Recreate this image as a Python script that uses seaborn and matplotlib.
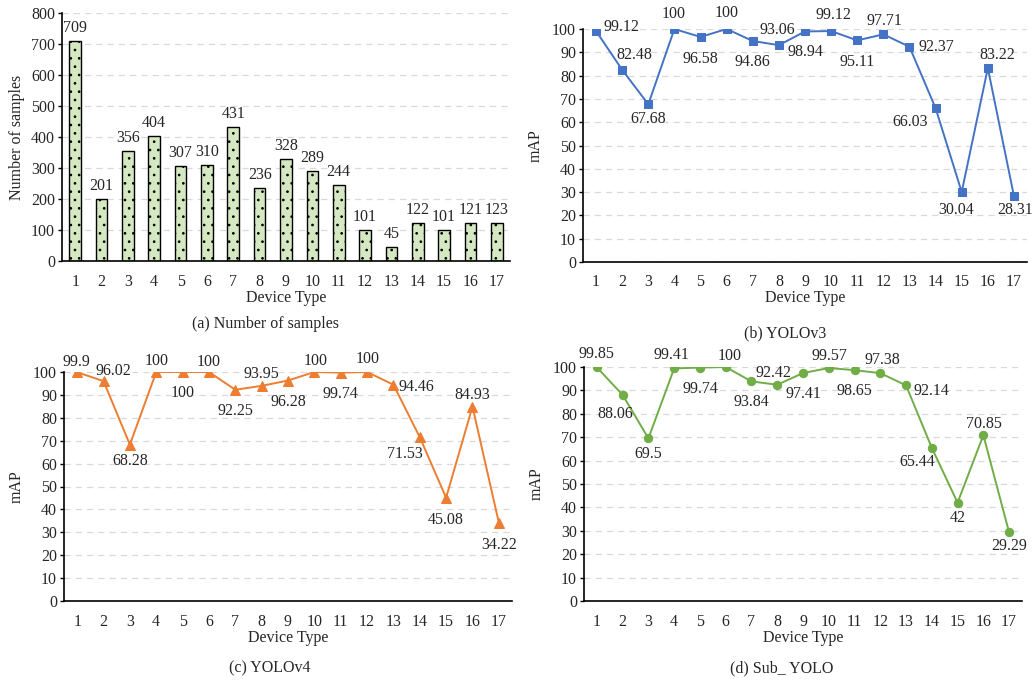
import matplotlib
matplotlib.use("Agg")
import matplotlib.pyplot as plt
import numpy as np
import pandas as pd
import seaborn as sns
from matplotlib.ticker import MultipleLocator

device_types = list(range(1, 18))
samples = [709, 201, 356, 404, 307, 310, 431, 236, 328, 289, 244, 101, 45, 122, 101, 121, 123]
yolov3_map = [99.12, 82.48, 67.68, 100, 96.58, 100, 94.86, 93.06, 98.94, 99.12, 95.11, 97.71, 92.37,
              66.03, 30.04, 83.22, 28.31]
yolov4_map = [99.9, 96.02, 68.28, 100, 100, 100, 92.25, 93.95, 96.28, 100, 99.74, 100, 94.46,
              71.53, 45.08, 84.93, 34.22]
sub_yolo_map = [99.85, 88.06, 69.5, 99.41, 99.74, 100, 93.84, 92.42, 97.41, 99.57, 98.65, 97.38, 92.14,
                65.44, 42, 70.85, 29.29]

# label offsets in pixels (dx, dy), hand placed like the original
yolov3_offsets = [(25, 4), (12, 15), (0, -15), (-1, 15), (0, -22), (0, 16), (0, -21), (-2, 15), (0, -21),
                  (2, 16), (0, -22), (1, 13), (27, 0), (-25, -14), (-6, -18), (9, 13), (1, -14)]
yolov4_offsets = [(-1, 10), (10, 10), (0, -16), (0, 11), (0, -21), (0, 10), (0, -21), (0, 12), (0, -21),
                  (1, 11), (0, -21), (1, 13), (23, -2), (-15, -17), (0, -22), (0, 12), (0, -22)]
sub_yolo_offsets = [(0, 13), (-7, -19), (0, -16), (-3, 13), (0, -21), (4, 11), (0, -21), (-4, 12), (0, -21),
                    (1, 12), (0, -21), (2, 13), (25, -6), (-15, -14), (0, -15), (1, 11), (0, -14)]

sns.set_theme(style="white")
plt.rcParams['font.family'] = ['Liberation Serif', 'DejaVu Serif']
plt.rcParams['hatch.color'] = '#333333'
plt.rcParams['hatch.linewidth'] = 0.7
FS = 11.5

fig = plt.figure(figsize=(10.34, 6.81), dpi=100)


def style_axis(ax, ymax, ystep, xlim):
    ax.set_ylim(0, ymax)
    ax.set_xlim(*xlim)
    ax.yaxis.set_major_locator(MultipleLocator(ystep))
    ax.xaxis.set_minor_locator(plt.FixedLocator(np.arange(xlim[0], xlim[1] + 0.01, 1)))
    ax.tick_params(axis='x', which='major', length=0, pad=9, labelsize=FS)
    ax.tick_params(axis='x', which='minor', direction='in', length=5, width=1, color='black')
    ax.tick_params(axis='y', which='major', direction='out', length=3, width=1, color='black',
                   pad=2, labelsize=FS, left=True)
    for side in ['top', 'right']:
        ax.spines[side].set_visible(False)
    for side in ['left', 'bottom']:
        ax.spines[side].set_color('black')
        ax.spines[side].set_linewidth(1.2)
    ax.yaxis.grid(True, linestyle=(0, (5, 4)), color='#d9d9d9', linewidth=0.9)
    ax.set_axisbelow(True)
    ax.set_xlabel('Device Type', fontsize=FS, labelpad=0)


# (a) Number of samples
ax_a = fig.add_axes([62 / 1034, 1 - 261 / 681, 448 / 1034, 248 / 681])
df_a = pd.DataFrame({'device': [str(d) for d in device_types], 'samples': samples})
sns.barplot(data=df_a, x='device', y='samples', ax=ax_a, color='#d4e8c2', width=0.44,
            edgecolor='black', linewidth=1.0, saturation=1)
for bar in ax_a.patches:
    bar.set_hatch('..')
style_axis(ax_a, 800, 100, (-0.5, 16.5))
ax_a.set_ylabel('Number of samples', fontsize=FS, labelpad=4)
for i, v in enumerate(samples):
    ax_a.annotate(str(v), (i, v), xytext=(0, 5), textcoords='offset pixels',
                  ha='center', va='bottom', fontsize=FS, annotation_clip=False)
fig.text(265 / 1034, 1 - 324 / 681, '(a) Number of samples', ha='center', va='center', fontsize=FS)


def line_panel(rect, values, offsets, color, marker, msize, caption, cap_xy):
    ax = fig.add_axes(rect)
    df = pd.DataFrame({'device': device_types, 'mAP': values})
    sns.lineplot(data=df, x='device', y='mAP', ax=ax, color=color, marker=marker,
                 markersize=msize, markeredgecolor=color, linewidth=1.4)
    style_axis(ax, 100, 10, (0.5, 17.5))
    ax.set_xticks(device_types)
    ax.set_ylabel('mAP', fontsize=FS, labelpad=6)
    for x, v, (dx, dy) in zip(device_types, values, offsets):
        ax.annotate(f"{v:g}", (x, v), xytext=(dx, dy), textcoords='offset pixels',
                    ha='center', va='center', fontsize=FS, annotation_clip=False)
    fig.text(cap_xy[0] / 1034, 1 - cap_xy[1] / 681, caption, ha='center', va='center', fontsize=FS)
    return ax


line_panel([583 / 1034, 1 - 262 / 681, 444 / 1034, 233 / 681], yolov3_map, yolov3_offsets,
           '#4472c4', 's', 6, '(b) YOLOv3', (785, 333))
line_panel([64 / 1034, 1 - 601 / 681, 448 / 1034, 229 / 681], yolov4_map, yolov4_offsets,
           '#ed7d31', '^', 7, '(c) YOLOv4', (270, 668))
line_panel([584 / 1034, 1 - 601 / 681, 438 / 1034, 234 / 681], sub_yolo_map, sub_yolo_offsets,
           '#70ad47', 'o', 6, '(d) Sub_ YOLO', (782, 668))

fig.savefig('out.png', dpi=100)
